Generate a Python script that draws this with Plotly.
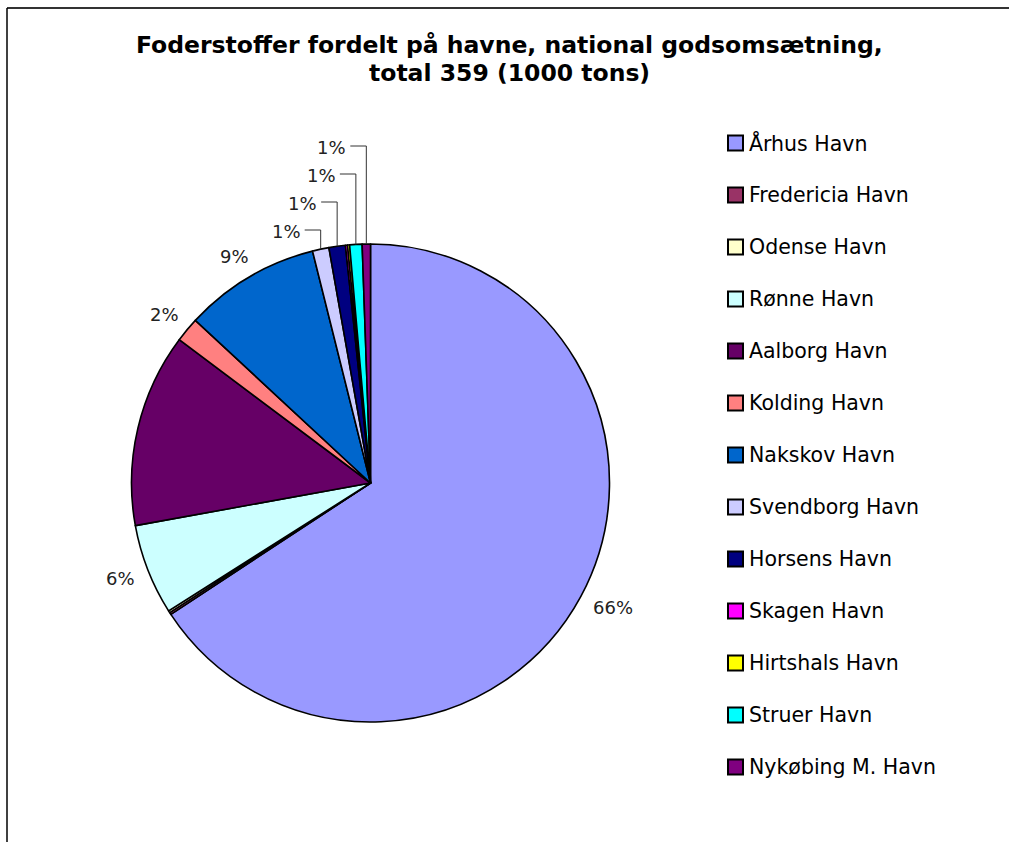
import math
import plotly.graph_objects as go

# ---------------- data ----------------
ports = ["Århus Havn", "Fredericia Havn", "Odense Havn", "Rønne Havn", "Aalborg Havn",
         "Kolding Havn", "Nakskov Havn", "Svendborg Havn", "Horsens Havn", "Skagen Havn",
         "Hirtshals Havn", "Struer Havn", "Nykøbing M. Havn"]
tons_1000 = [236, 0.5, 0.5, 22, 47, 6, 33, 4, 4, 0.5, 0.5, 3, 2]
label_shown = [True, False, False, True, False, True, True, True, True, False, False, True, True]
colors = ["#9999FF", "#993366", "#FFFFCC", "#CCFFFF", "#660066", "#FF8080", "#0066CC",
          "#CCCCFF", "#000080", "#FF00FF", "#FFFF00", "#00FFFF", "#800080"]
title_lines = ["Foderstoffer fordelt på havne, national godsomsætning,", "total 359 (1000 tons)"]

# ---------------- layout helpers ----------------
W, H = 1009, 842
CX, CY, R = 370.5, 483, 239
FONT = "DejaVu Sans, Verdana, sans-serif"


def fx(x):
    return x / W


def fy(y):
    return 1 - y / H


fig = go.Figure(go.Pie(
    labels=ports, values=tons_1000, sort=False, direction="clockwise", rotation=0,
    marker=dict(colors=colors, line=dict(color="black", width=1.6)),
    textinfo="none", hoverinfo="label+value+percent", showlegend=False,
    domain=dict(x=[fx(CX - R), fx(CX + R)], y=[fy(CY + R), fy(CY - R)]),
))

annotations = []
shapes = []

# percent labels, placed from the slice angles
total = sum(tons_1000)
cum = 0.0
mids = []
for v in tons_1000:
    a0 = cum / total * 360
    cum += v
    a1 = cum / total * 360
    mids.append((a0 + a1) / 2)

small_idx = [i for i, v in enumerate(tons_1000) if label_shown[i] and v / total < 0.015]
for i, v in enumerate(tons_1000):
    if not label_shown[i]:
        continue
    pct = f"{round(100 * v / total):d}%"
    th = math.radians(mids[i])
    s, c = math.sin(th), math.cos(th)
    if i in small_idx:
        k = small_idx.index(i)
        level = CY - R - 14 - 28 * k
        ex = CX + R * s
        ey = CY - R * c
        shapes.append(dict(type="line", xref="paper", yref="paper",
                           x0=fx(ex), y0=fy(ey), x1=fx(ex), y1=fy(level),
                           line=dict(color="#333333", width=1)))
        shapes.append(dict(type="line", xref="paper", yref="paper",
                           x0=fx(ex), y0=fy(level), x1=fx(ex - 16), y1=fy(level),
                           line=dict(color="#333333", width=1)))
        annotations.append(dict(x=fx(ex - 18), y=fy(level + 1), xref="paper", yref="paper",
                                text=pct, showarrow=False, xanchor="right", yanchor="middle",
                                font=dict(family=FONT, size=18, color="#222222")))
    else:
        hw = 7 * len(pct)
        lx = CX + (R + 15) * s + hw * s
        ly = CY - (R + 15) * c - 9 * c
        annotations.append(dict(x=fx(lx), y=fy(ly), xref="paper", yref="paper",
                                text=pct, showarrow=False, xanchor="center", yanchor="middle",
                                font=dict(family=FONT, size=18, color="#222222")))

# legend (drawn manually to match the spacing)
LEG_X, LEG_Y0, LEG_DY, SQ = 728, 143, 52, 15
for i, name in enumerate(ports):
    yc = LEG_Y0 + LEG_DY * i
    shapes.append(dict(type="rect", xref="paper", yref="paper",
                       x0=fx(LEG_X), x1=fx(LEG_X + SQ), y0=fy(yc - SQ / 2), y1=fy(yc + SQ / 2),
                       fillcolor=colors[i], line=dict(color="black", width=2)))
    annotations.append(dict(x=fx(LEG_X + SQ + 4), y=fy(yc), xref="paper", yref="paper",
                            text=name, showarrow=False, xanchor="left", yanchor="middle",
                            font=dict(family=FONT, size=20.5, color="black")))

# title (two lines)
for j, line in enumerate(title_lines):
    annotations.append(dict(x=fx(509), y=fy(45 + 28 * j), xref="paper", yref="paper",
                            text=f"<b>{line}</b>", showarrow=False, xanchor="center",
                            yanchor="middle", font=dict(family=FONT, size=23.5, color="black")))

# chart-area border (top and left visible)
shapes.append(dict(type="line", xref="paper", yref="paper", x0=fx(7), y0=fy(8), x1=fx(W + 5), y1=fy(8),
                   line=dict(color="#333333", width=2)))
shapes.append(dict(type="line", xref="paper", yref="paper", x0=fx(7), y0=fy(8), x1=fx(7), y1=fy(H + 5),
                   line=dict(color="black", width=1.5)))

fig.update_layout(
    width=W, height=H, margin=dict(l=0, r=0, t=0, b=0),
    paper_bgcolor="white", plot_bgcolor="white",
    annotations=annotations, shapes=shapes, showlegend=False,
)

fig.write_html("out.html", config={"displayModeBar": False},
               post_script="document.body.style.margin='0';document.body.style.overflow='hidden';")
